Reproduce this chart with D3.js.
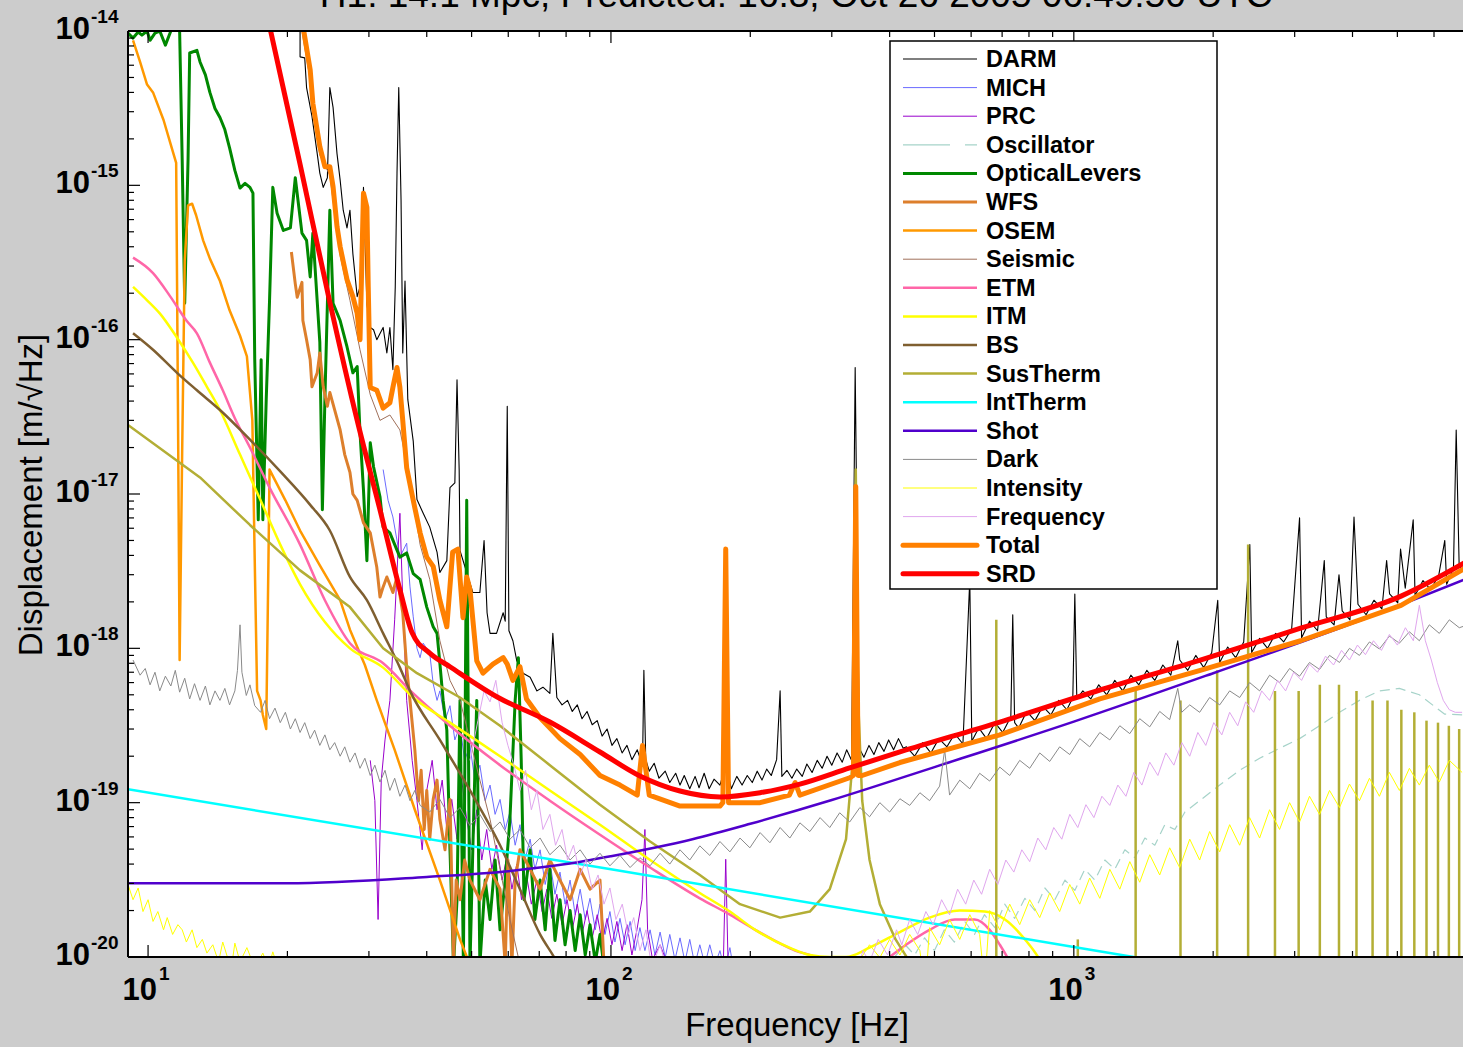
<!DOCTYPE html>
<html><head><meta charset="utf-8">
<script src="https://cdn.jsdelivr.net/npm/d3@7"></script>
<style>
html,body{margin:0;padding:0;background:#cccccc;overflow:hidden;}
svg{display:block;}
</style></head><body>
<svg id="chart" width="1463" height="1047"></svg>
<script>
// ---------------- text ----------------
const titleText = "H1: 14.1 Mpc, Predicted: 16.3, Oct 26 2005 06:49:50 UTC";
const xLabelText = "Frequency [Hz]";
const yLabelText = "Displacement [m/\u221AHz]";
const xTickExponents = [1, 2, 3];
const yTickExponents = [-14, -15, -16, -17, -18, -19, -20];
const legendNames = ["DARM","MICH","PRC","Oscillator","OpticalLevers","WFS","OSEM","Seismic","ETM","ITM","BS","SusTherm","IntTherm","Shot","Dark","Intensity","Frequency","Total","SRD"];

// ---------------- data: [frequency Hz, displacement m/rtHz] ----------------
const darm = [[21.3,1.4e-14],[21.3,6.8e-15],[21.8,6.7e-15],[22.0,4.3e-15],[22.6,2.8e-15],[23.2,1.6e-15],[23.5,1.2e-15],[23.9,9.7e-16],[24.4,1.12e-15],[24.7,4.3e-15],[25.1,3.2e-15],[25.6,1.6e-15],[26.0,1.08e-15],[26.4,6.9e-16],[26.9,5.3e-16],[27.3,6.9e-16],[27.7,3.6e-16],[28.3,1.9e-16],[28.7,2.2e-16],[29.2,9.7e-16],[29.7,1.7e-16],[30.2,1.2e-16],[30.7,1.16e-16],[31.2,1.0e-16],[32.2,1.2e-16],[32.8,8.2e-17],[33.3,1.2e-16],[33.8,6.4e-17],[34.2,2.2e-16],[34.5,1.2e-15],[34.8,4.3e-15],[35.2,8.0e-16],[35.5,8.2e-17],[35.9,2.4e-16],[36.4,4.1e-17],[37.4,2.2e-17],[38.1,9.2e-18],[39.3,7.5e-18],[40.6,6.1e-18],[42.1,4.2e-18],[42.7,3.1e-18],[44.2,3.7e-18],[44.9,1.1e-17],[46.0,1.18e-17],[46.5,5.5e-17],[47.0,1.44e-17],[47.2,4.3e-18],[48.8,3.1e-18],[50.3,2.3e-18],[52.1,2.3e-18],[53.2,5.0e-18],[54.0,1.7e-18],[54.8,1.25e-18],[56.6,1.25e-18],[58.5,1.7e-18],[59.1,1.5e-18],[59.7,3.7e-17],[60.2,1.3e-18],[61.4,1.12e-18],[62.6,8.3e-19],[64.6,6.9e-19],[66.9,6.5e-19],[69.2,5.3e-19],[71.3,5.6e-19],[73.8,5.1e-19],[74.9,1.25e-18],[76.4,4.8e-19],[78.4,4.3e-19],[80.6,4.6e-19],[82.5,3.9e-19],[84.6,4.3e-19],[86.6,3.5e-19],[88.8,3.9e-19],[91.1,3.2e-19],[93.4,3.4e-19],[95.7,2.7e-19],[98.1,3.0e-19],[100.5,2.35e-19],[103,2.6e-19],[105.7,2.1e-19],[108.3,2.35e-19],[111,1.9e-19],[114,2.2e-19],[117,1.75e-19],[117.8,7.2e-19],[118.9,1.9e-19],[121,1.6e-19],[124,1.8e-19],[127,1.44e-19],[131,1.6e-19],[134,1.35e-19],[138,1.55e-19],[141,1.3e-19],[144,1.5e-19],[148,1.23e-19],[152,1.48e-19],[155,1.25e-19],[159,1.55e-19],[163,1.23e-19],[167,1.42e-19],[172,1.3e-19],[175,1.55e-19],[177,9.7e-19],[179,1.55e-19],[182,1.23e-19],[187,1.48e-19],[192,1.3e-19],[197,1.5e-19],[202,1.35e-19],[207,1.6e-19],[212,1.4e-19],[217,1.65e-19],[222,1.5e-19],[228,1.9e-19],[232,5.3e-19],[234,1.48e-19],[240,1.62e-19],[246,1.44e-19],[252,1.65e-19],[259,1.48e-19],[265,1.78e-19],[272,1.57e-19],[279,1.88e-19],[286,1.67e-19],[293,2.0e-19],[300,1.75e-19],[308,2.1e-19],[316,1.83e-19],[323,2.2e-19],[331,1.88e-19],[337,6.6e-17],[344,2.25e-19],[352,1.97e-19],[361,2.35e-19],[370,2.05e-19],[379,2.45e-19],[389,2.15e-19],[398,2.55e-19],[408,2.2e-19],[418,2.6e-19],[428,2.25e-19],[435,2.3e-19],[453,2.0e-19],[472,2.45e-19],[491,2.1e-19],[511,2.6e-19],[532,2.3e-19],[553,2.8e-19],[576,2.4e-19],[596,2.8e-18],[602,2.5e-19],[623,3.05e-19],[648,2.6e-19],[675,3.3e-19],[702,2.85e-19],[731,3.6e-19],[738,1.65e-18],[745,3.3e-19],[760,3.05e-19],[791,3.9e-19],[824,3.4e-19],[857,4.2e-19],[892,3.7e-19],[928,4.6e-19],[966,4.0e-19],[995,4.8e-19],[1005,2.25e-18],[1015,4.7e-19],[1046,5.3e-19],[1088,4.7e-19],[1132,5.8e-19],[1178,5.0e-19],[1226,6.2e-19],[1276,5.3e-19],[1328,6.7e-19],[1382,5.8e-19],[1438,7.2e-19],[1496,6.2e-19],[1557,7.8e-19],[1620,6.7e-19],[1677,1.12e-18],[1694,8.4e-19],[1763,7.2e-19],[1834,9.0e-19],[1909,7.5e-19],[1986,9.4e-19],[2046,2.05e-18],[2066,8.1e-19],[2150,1.02e-18],[2237,8.7e-19],[2328,1.1e-18],[2400,4.7e-18],[2422,9.4e-19],[2520,1.16e-18],[2622,1.0e-18],[2729,1.25e-18],[2840,1.1e-18],[2955,1.33e-18],[3074,7.0e-18],[3105,1.17e-18],[3230,1.5e-18],[3362,1.3e-18],[3476,3.7e-18],[3510,1.6e-18],[3650,1.42e-18],[3740,3.0e-18],[3800,1.75e-18],[3950,1.53e-18],[4030,7.1e-18],[4110,1.93e-18],[4280,1.65e-18],[4450,2.05e-18],[4630,1.8e-18],[4740,3.7e-18],[4810,2.25e-18],[5010,1.97e-18],[5080,4.4e-18],[5200,2.45e-18],[5410,6.8e-18],[5460,2.2e-18],[5680,2.75e-18],[5900,2.4e-18],[6140,2.95e-18],[6330,5.0e-18],[6390,2.6e-18],[6610,3.3e-18],[6700,2.6e-17],[6800,3.4e-18],[7000,3.1e-18]];

const mich = [[32.2,1.44e-17],[33.0,9.1e-18],[33.8,7.1e-18],[35.0,3.9e-18],[36.2,4.8e-18],[36.8,2.5e-18],[37.4,1.6e-18],[38.1,1.0e-18],[38.7,8.7e-19],[39.3,1.08e-18],[40.6,9.3e-19],[41.3,5.9e-19],[42.1,4.6e-19],[42.7,5.3e-19],[43.8,3.4e-19],[44.9,4.25e-19],[46.0,2.55e-19],[47.2,3.15e-19],[48.3,1.88e-19],[49.6,2.35e-19],[50.8,1.4e-19],[52.1,1.75e-19],[53.5,1.03e-19],[54.8,1.3e-19],[56.2,8.4e-20],[57.6,1.05e-19],[59.1,6.7e-20],[60.5,8.7e-20],[62.1,5.3e-20],[63.6,7.2e-20],[65.2,4.25e-20],[66.9,5.8e-20],[68.5,3.7e-20],[70.3,4.95e-20],[72.1,2.95e-20],[73.8,4.15e-20],[75.7,2.55e-20],[77.6,3.55e-20],[79.6,2.2e-20],[81.6,3.15e-20],[83.7,1.88e-20],[85.8,2.75e-20],[88.0,1.75e-20],[90.1,2.4e-20],[92.5,1.5e-20],[94.7,2.2e-20],[97.1,1.4e-20],[99.5,1.97e-20],[102,1.25e-20],[104.6,1.78e-20],[107.3,1.2e-20],[110,1.7e-20],[112.8,1.1e-20],[115.5,1.55e-20],[118.4,1.1e-20],[121.5,1.5e-20],[124.5,1.03e-20],[127.7,1.45e-20],[131,9.9e-21],[134,1.4e-20],[137.5,9.6e-21],[141,1.33e-20],[144.5,9.3e-21],[148,1.3e-20],[151.8,8.9e-21],[155.6,1.2e-20],[159.6,8.9e-21],[163.5,1.2e-20],[167.7,8.9e-21],[172,1.1e-20],[176,8.2e-21],[180.7,1.15e-20],[185,7.6e-21]];

const prc = [[30.2,1.88e-19],[30.9,1.03e-19],[31.4,1.75e-20],[31.9,1.4e-19],[32.5,2.55e-19],[33.3,4.6e-19],[34.1,1.53e-18],[35.0,7.5e-18],[35.5,2.05e-18],[36.2,4.6e-19],[37.2,1.88e-19],[38.1,1.03e-19],[39.1,4.95e-20],[40.0,1.2e-19],[41.1,1.88e-19],[42.1,9.0e-20],[43.2,1.4e-19],[44.2,6.7e-20],[45.3,1.05e-19],[46.5,5.8e-20],[47.6,1.4e-19],[48.8,7.8e-20],[50.0,4.95e-20],[51.3,9.0e-20],[52.6,4.25e-20],[53.9,6.7e-20],[55.3,3.7e-20],[56.6,5.3e-20],[58.2,3.15e-20],[59.7,4.6e-20],[61.1,2.75e-20],[62.6,4.0e-20],[64.1,2.35e-20],[65.7,3.4e-20],[67.3,2.2e-20],[69.2,3.15e-20],[71.0,1.97e-20],[72.7,2.75e-20],[74.5,1.78e-20],[76.4,2.55e-20],[78.4,1.62e-20],[80.4,2.35e-20],[82.5,1.5e-20],[84.6,2.2e-20],[86.6,1.4e-20],[88.8,2.0e-20],[91.1,1.33e-20],[93.4,1.88e-20],[95.7,1.25e-20],[98.1,1.78e-20],[100.5,1.2e-20],[103,1.7e-20],[105.7,1.1e-20],[108.3,1.62e-20],[111,1.03e-20],[113.8,1.5e-20],[116.7,2.35e-20],[118.4,6.7e-20],[120,1.5e-20],[123,9.6e-21],[127.7,1.2e-20],[134,8.2e-21],[175,9.6e-21],[177,4.3e-20],[179,9.6e-21]];

const oscillator = [[410,1.0e-20],[432,1.2e-20],[453,1.03e-20],[476,1.33e-20],[500,1.1e-20],[525,1.5e-20],[552,1.25e-20],[581,1.7e-20],[610,1.4e-20],[641,1.88e-20],[675,1.55e-20],[709,2.2e-20],[745,1.78e-20],[784,2.4e-20],[824,2.0e-20],[866,2.8e-20],[910,2.35e-20],[957,3.15e-20],[1005,2.7e-20],[1056,3.7e-20],[1110,3.15e-20],[1167,4.25e-20],[1226,3.7e-20],[1289,4.95e-20],[1355,4.4e-20],[1424,5.9e-20],[1496,5.3e-20],[1573,7.2e-20],[1653,6.7e-20],[1738,8.7e-20],[1870,1.03e-19],[2066,1.3e-19],[2282,1.62e-19],[2520,1.94e-19],[2783,2.25e-19],[3074,2.6e-19],[3395,3.15e-19],[3750,3.85e-19],[4141,4.6e-19],[4573,5.3e-19],[5051,5.5e-19],[5578,5.0e-19],[6015,4.2e-19],[6320,3.75e-19],[7000,3.7e-19]];

const opticalLevers = [[9.05,9.7e-15],[9.28,9.0e-15],[9.52,9.85e-15],[9.7,9.4e-15],[9.95,1.0e-14],[10.1,8.7e-15],[10.35,9.7e-15],[10.6,1.0e-14],[10.9,8.1e-15],[11.2,1.0e-14],[11.5,1.18e-14],[11.7,1.0e-14],[11.85,1.46e-15],[12.0,1.72e-16],[12.2,1.46e-15],[12.3,7.2e-15],[12.75,7.5e-15],[12.95,6.3e-15],[13.3,5.2e-15],[13.6,4.0e-15],[13.95,3.15e-15],[14.3,2.75e-15],[14.65,2.3e-15],[15.0,1.75e-15],[15.4,1.25e-15],[15.8,9.6e-16],[16.2,1.03e-15],[16.6,9.7e-16],[16.85,8.9e-16],[17.0,7.4e-17],[17.3,6.8e-18],[17.55,7.4e-17],[17.7,6.8e-18],[18.0,4.1e-17],[18.3,1.8e-16],[18.6,9.7e-16],[19.0,6.6e-16],[19.6,5.1e-16],[20.3,5.3e-16],[20.8,1.12e-15],[21.5,4.9e-16],[22.0,4.4e-16],[22.4,2.55e-16],[22.7,4.9e-16],[23.5,9.6e-17],[23.8,7.9e-18],[24.1,4.1e-17],[24.7,6.9e-16],[25.1,1.72e-16],[26.0,1.33e-16],[26.9,9.0e-17],[27.7,6.1e-17],[28.3,6.7e-17],[28.7,2.5e-17],[29.2,1.06e-17],[29.7,3.7e-18],[30.2,2.15e-17],[30.7,1.5e-17],[31.7,9.6e-18],[32.2,6.1e-18],[33.3,5.6e-18],[35.0,3.9e-18],[36.2,4.15e-18],[37.4,3.05e-18],[38.7,2.8e-18],[40.0,1.85e-18],[41.3,1.38e-18],[42.1,1.25e-18],[42.7,8.0e-19],[43.4,4.6e-19],[44.2,2.95e-19],[44.9,4.95e-20],[45.7,8.9e-21],[46.5,2.35e-20],[47.2,4.6e-19],[48.0,8.9e-21],[48.8,9.1e-18],[49.6,8.9e-21],[50.3,4.95e-20],[51.3,4.6e-19],[52.1,8.9e-21],[53.5,3.15e-20],[54.8,1.75e-20],[56.2,4.25e-20],[57.6,1.5e-20],[59.1,3.15e-20],[60.5,7.8e-20],[62.1,4.6e-19],[63.1,8.7e-19],[64.0,1.88e-19],[64.9,2.35e-20],[66.9,4.95e-20],[68.5,1.75e-20],[70.3,3.15e-20],[72.1,1.5e-20],[73.8,3.7e-20],[75.7,1.28e-20],[77.6,2.35e-20],[79.6,1.2e-20],[81.6,2.0e-20],[83.7,1.1e-20],[85.8,1.88e-20],[88.0,1.03e-20],[90.1,1.62e-20],[92.5,9.3e-21],[94.7,1.4e-20],[97.1,7.6e-21]];

const wfs = [[20.4,3.7e-16],[20.8,2.3e-16],[21.0,1.88e-16],[21.5,2.35e-16],[21.6,1.33e-16],[22.0,1.0e-16],[22.4,7.4e-17],[22.6,4.95e-17],[23.2,6.1e-17],[23.5,8.2e-17],[23.9,4.95e-17],[24.4,3.7e-17],[24.7,4.55e-17],[26.0,2.6e-17],[26.6,1.8e-17],[27.3,1.38e-17],[27.7,1.0e-17],[28.3,9.1e-18],[29.2,6.5e-18],[30.2,5.6e-18],[31.2,3.35e-18],[31.7,2.15e-18],[32.2,2.5e-18],[32.8,2.9e-18],[33.8,2.3e-18],[34.5,2.9e-18],[35.5,1.7e-18],[36.2,7.5e-19],[36.8,4.6e-19],[37.7,2.2e-19],[38.4,1.03e-19],[38.9,1.62e-19],[39.5,6.7e-20],[40.0,1.2e-19],[40.6,5.8e-20],[41.3,1.05e-19],[42.1,1.4e-19],[42.7,7.8e-20],[43.8,4.95e-20],[44.9,1.05e-19],[45.7,8.9e-21],[46.3,3.15e-20],[47.2,2.35e-20],[48.3,4.25e-20],[49.6,3.15e-20],[52.1,2.35e-20],[54.8,3.7e-20],[57.6,2.75e-20],[59.1,8.9e-21],[59.9,4.25e-20],[61.1,8.9e-21],[62.1,3.15e-20],[63.6,4.95e-20],[66.9,3.7e-20],[70.3,2.75e-20],[73.8,4.25e-20],[77.6,3.15e-20],[81.6,2.35e-20],[85.8,3.7e-20],[90.1,2.75e-20],[94.7,3.15e-20],[96.6,8.9e-21]];

const osem = [[9.28,8.7e-15],[9.61,6.3e-15],[9.95,4.5e-15],[10.25,4.0e-15],[10.8,2.65e-15],[11.2,1.83e-15],[11.5,1.4e-15],[11.6,4.1e-17],[11.7,8.4e-19],[11.85,1.94e-17],[12.0,3.25e-16],[12.2,7.4e-16],[12.45,7.6e-16],[12.7,6.4e-16],[13.15,4.4e-16],[13.6,3.35e-16],[14.3,2.4e-16],[15.0,1.55e-16],[15.8,1.06e-16],[16.35,7.8e-17],[16.8,3.0e-17],[17.0,3.7e-18],[17.2,5.3e-19],[17.5,4.6e-19],[17.7,3.7e-19],[18.0,3.0e-19],[18.2,3.7e-18],[18.3,1.44e-17],[19.8,9.1e-18],[21.3,5.8e-18],[23.5,3.45e-18],[26.0,2.05e-18],[27.3,1.32e-18],[29.4,7.8e-19],[31.2,4.6e-19],[34.1,2.2e-19],[37.7,9.0e-20],[42.7,3.15e-20],[47.2,1.3e-20],[49.1,9.6e-21],[50.8,6.1e-21]];

const seismic = [[21.3,1.18e-14],[22.4,4.8e-15],[23.5,1.57e-15],[24.7,1.16e-15],[26.0,3.5e-16],[27.3,1.8e-16],[28.7,8.6e-17],[30.2,4.4e-17],[31.7,3.0e-17],[33.3,3.25e-17],[35.0,2.6e-17],[36.8,1.23e-17],[38.7,4.7e-18],[40.6,2.8e-18],[42.7,1.12e-18],[44.9,6.2e-19],[47.2,4.6e-19],[49.6,2.55e-19],[52.1,1.4e-19],[54.8,7.8e-20],[57.6,3.7e-20],[60.5,1.75e-20],[63.6,8.9e-21]];

const etm = [[9.28,3.4e-16],[10.25,2.7e-16],[11.2,1.88e-16],[12.1,1.33e-16],[12.75,1.1e-16],[13.6,7.1e-17],[14.5,4.7e-17],[15.4,3.1e-17],[16.6,2.0e-17],[18.3,1.1e-17],[21.3,4.7e-18],[24.1,2.05e-18],[27.3,1.08e-18],[32.2,8.0e-19],[37.4,5.1e-19],[44.9,3.15e-19],[57.6,1.75e-19],[73.8,1.03e-19],[94.7,6.2e-20],[121.5,3.8e-20],[155.6,2.4e-20],[180.7,1.88e-20],[205,1.5e-20],[250,1.1e-20],[276,1.0e-20],[312,7.6e-21],[362,8.2e-21],[400,1.0e-20],[434,1.2e-20],[488,1.5e-20],[553,1.75e-20],[611,1.75e-20],[658,1.5e-20],[692,1.2e-20],[727,9.3e-21],[764,6.6e-21]];

const itm = [[9.28,2.2e-16],[9.95,1.8e-16],[10.6,1.48e-16],[11.55,1.03e-16],[12.5,7.1e-17],[13.4,4.95e-17],[14.3,3.5e-17],[15.8,1.8e-17],[17.5,9.1e-18],[19.3,4.7e-18],[21.3,2.6e-18],[24.1,1.48e-18],[27.3,1.0e-18],[32.2,7.5e-19],[37.4,4.8e-19],[44.9,3.3e-19],[57.6,2.0e-19],[73.8,1.2e-19],[94.7,7.2e-20],[121.5,4.25e-20],[155.6,2.6e-20],[180.7,1.97e-20],[205,1.5e-20],[243,1.15e-20],[269,1.03e-20],[297,1.0e-20],[322,1.0e-20],[362,1.15e-20],[421,1.45e-20],[488,1.8e-20],[567,2.0e-20],[642,1.97e-20],[710,1.75e-20],[784,1.3e-20],[844,9.6e-21],[887,7.1e-21]];

const bs = [[9.28,1.1e-16],[10.25,8.6e-17],[11.55,6.1e-17],[12.75,4.7e-17],[14.3,3.5e-17],[16.6,2.25e-17],[19.3,1.4e-17],[22.4,8.5e-18],[24.7,5.8e-18],[27.3,2.9e-18],[29.7,2.05e-18],[32.2,1.25e-18],[35.0,7.5e-19],[36.8,5.3e-19],[42.7,2.55e-19],[49.6,1.2e-19],[57.6,5.3e-20],[63.6,2.75e-20],[70.3,1.4e-20],[75.9,9.6e-21],[81.6,6.1e-21]];

const susTherm = [[9.05,2.8e-17],[12.95,1.28e-17],[16.6,6.3e-18],[21.3,3.2e-18],[27.3,1.85e-18],[32.2,1.0e-18],[38.1,6.9e-19],[47.2,4.8e-19],[57.6,3.15e-19],[73.8,1.75e-19],[94.7,9.7e-20],[121.5,5.6e-20],[155.6,3.4e-20],[190,2.2e-20],[232,1.8e-20],[269,1.97e-20],[297,2.75e-20],[322,5.8e-20],[333,1.88e-19],[338,1.44e-17],[342,4.6e-19],[349,1.03e-19],[362,4.25e-20],[381,2.2e-20],[412,1.3e-20],[442,9.3e-21]];
const violinFreqs = [680,1020,1360,1700,2040,2380,2720,3060,3400,3740,4080,4420,4760,5100,5440,5780,6120,6460,6800];
const violinPeaks = [1.53e-18,1.3e-20,5.3e-19,4.6e-19,7.2e-19,4.7e-18,5.3e-19,5.3e-19,5.8e-19,5.8e-19,5.3e-19,4.6e-19,4.6e-19,4.0e-19,3.85e-19,3.4e-19,3.3e-19,3.15e-19,3.0e-19];

const intTherm = [[9.05,1.22e-19],[100,3.7e-20],[1000,1.16e-20],[7000,4.4e-21]];

const shot = [[9.05,3.0e-20],[20,3.0e-20],[40,3.3e-20],[60,3.6e-20],[80,4.0e-20],[100,4.5e-20],[150,5.8e-20],[200,7.3e-20],[300,1.04e-19],[500,1.7e-19],[1000,3.35e-19],[2000,6.9e-19],[4000,1.45e-18],[7000,2.8e-18]];

const dark = [[9.28,8.4e-19],[9.61,6.7e-19],[9.86,7.4e-19],[10.1,5.8e-19],[10.35,7.0e-19],[10.6,5.3e-19],[10.9,6.6e-19],[11.2,5.7e-19],[11.45,7.2e-19],[11.7,5.2e-19],[12.0,6.4e-19],[12.3,4.7e-19],[12.6,5.9e-19],[12.95,4.6e-19],[13.3,5.7e-19],[13.6,4.3e-19],[13.95,5.3e-19],[14.3,4.6e-19],[14.65,5.5e-19],[15.0,4.3e-19],[15.4,5.3e-19],[15.6,7.2e-19],[15.8,1.42e-18],[15.95,7.0e-19],[16.3,4.95e-19],[16.6,5.8e-19],[17.0,4.25e-19],[17.5,3.85e-19],[17.9,4.6e-19],[18.3,3.5e-19],[18.8,4.1e-19],[19.3,3.3e-19],[19.8,3.85e-19],[20.3,3.0e-19],[20.8,3.5e-19],[21.3,2.85e-19],[21.8,3.3e-19],[22.4,2.6e-19],[22.9,2.95e-19],[23.5,2.35e-19],[24.1,2.75e-19],[24.7,2.2e-19],[25.3,2.45e-19],[26.0,2.0e-19],[26.6,2.3e-19],[27.3,1.83e-19],[28.0,2.1e-19],[28.7,1.67e-19],[29.4,1.94e-19],[30.2,1.5e-19],[30.9,1.75e-19],[31.7,1.36e-19],[32.5,1.62e-19],[33.3,1.2e-19],[34.1,1.44e-19],[35.0,1.1e-19],[35.9,1.3e-19],[36.8,1.03e-19],[37.7,1.2e-19],[38.7,9.6e-20],[40.6,8.7e-20],[42.7,1.05e-19],[44.9,8.0e-20],[47.2,9.3e-20],[49.6,7.1e-20],[52.1,8.4e-20],[54.8,6.5e-20],[57.6,7.5e-20],[60.5,5.8e-20],[63.6,6.7e-20],[66.9,5.1e-20],[70.3,5.9e-20],[73.8,4.6e-20],[77.6,5.3e-20],[81.6,4.25e-20],[85.8,4.95e-20],[90.1,4.0e-20],[94.7,4.7e-20],[99.5,3.9e-20],[104.6,4.55e-20],[110,3.8e-20],[115.5,4.4e-20],[121.5,3.9e-20],[127.7,4.7e-20],[134,4.0e-20],[141,4.95e-20],[148,4.25e-20],[155.6,5.25e-20],[163.5,4.55e-20],[172,5.6e-20],[180.7,4.8e-20],[190,5.9e-20],[199.6,5.1e-20],[210,6.4e-20],[220.5,5.5e-20],[232,6.9e-20],[243.5,5.9e-20],[256,7.4e-20],[269,6.5e-20],[283,8.0e-20],[297,6.9e-20],[312,8.6e-20],[328,7.5e-20],[345,9.3e-20],[362,8.1e-20],[381,1.0e-19],[400,8.7e-20],[421,1.06e-19],[442,9.6e-20],[465,1.16e-19],[488,1.03e-19],[513,1.28e-19],[526,2.2e-19],[539,1.12e-19],[567,1.4e-19],[596,1.23e-19],[626,1.55e-19],[658,1.38e-19],[692,1.7e-19],[727,1.5e-19],[764,1.88e-19],[803,1.67e-19],[844,2.1e-19],[887,1.85e-19],[932,2.3e-19],[980,2.05e-19],[1030,2.6e-19],[1082,2.3e-19],[1138,2.85e-19],[1196,2.55e-19],[1257,3.15e-19],[1321,2.8e-19],[1388,3.5e-19],[1459,3.1e-19],[1533,3.9e-19],[1611,3.45e-19],[1677,5.5e-19],[1710,3.85e-19],[1780,4.3e-19],[1870,3.85e-19],[1965,4.8e-19],[2066,4.3e-19],[2171,5.3e-19],[2282,4.8e-19],[2398,6.0e-19],[2520,5.3e-19],[2648,6.7e-19],[2783,6.0e-19],[2925,7.4e-19],[3074,6.6e-19],[3230,8.1e-19],[3395,7.3e-19],[3568,9.0e-19],[3750,8.1e-19],[3940,1.0e-18],[4141,9.0e-19],[4352,1.1e-18],[4573,9.9e-19],[4806,1.2e-18],[5051,1.08e-18],[5308,1.28e-18],[5578,1.12e-18],[5862,1.42e-18],[6161,1.25e-18],[6474,1.53e-18],[6804,1.36e-18],[7000,1.4e-18]];

const intensity = [[9.05,2.95e-20],[9.28,2.35e-20],[9.52,2.8e-20],[9.75,1.97e-20],[10.0,2.35e-20],[10.25,1.7e-20],[10.5,1.97e-20],[10.8,1.5e-20],[11.0,1.8e-20],[11.3,1.4e-20],[11.6,1.62e-20],[11.85,1.5e-20],[12.1,1.25e-20],[12.45,1.5e-20],[12.75,1.15e-20],[13.1,1.3e-20],[13.4,1.06e-20],[13.8,1.2e-20],[14.2,9.3e-21],[14.5,1.25e-20],[14.9,9.6e-21],[15.25,1.0e-20],[15.4,1.23e-20],[15.8,9.3e-21],[16.35,1.15e-20],[17.0,8.5e-21],[17.7,1.06e-20],[18.2,8.5e-21],[18.6,1.08e-20],[19.3,7.6e-21],
 [345,9.6e-21],[362,1.2e-20],[381,9.9e-21],[400,1.3e-20],[421,1.03e-20],[442,1.4e-20],[465,1.1e-20],[477,6.0e-21],[488,1.55e-20],[513,1.2e-20],[539,1.75e-20],[567,1.3e-20],[596,1.88e-20],[626,1.4e-20],[642,6.5e-21],[658,2.0e-20],[692,1.5e-20],[727,2.2e-20],[764,1.62e-20],[803,2.35e-20],[844,1.8e-20],[887,2.6e-20],[932,1.97e-20],[980,2.95e-20],[1030,2.2e-20],[1082,3.25e-20],[1138,2.4e-20],[1196,3.7e-20],[1257,2.75e-20],[1321,4.15e-20],[1388,3.05e-20],[1459,4.6e-20],[1533,3.4e-20],[1611,5.1e-20],[1693,3.8e-20],[1780,5.8e-20],[1870,4.25e-20],[1965,6.5e-20],[2066,4.8e-20],[2171,7.2e-20],[2282,5.3e-20],[2398,8.0e-20],[2520,5.9e-20],[2648,9.0e-20],[2783,6.7e-20],[2925,1.0e-19],[3074,7.5e-20],[3230,1.1e-19],[3395,8.4e-20],[3568,1.2e-19],[3750,9.3e-20],[3940,1.32e-19],[4141,1.03e-19],[4352,1.44e-19],[4573,1.1e-19],[4806,1.57e-19],[5051,1.2e-19],[5308,1.67e-19],[5578,1.3e-19],[5862,1.75e-19],[6161,1.36e-19],[6474,1.88e-19],[6900,1.57e-19]];
const intensityGapAfter = 19.3; // the low-frequency and high-frequency parts are drawn as two pieces

const frequencyNoise = [[49.6,1.88e-19],[51.6,3.4e-19],[53.2,5.3e-19],[54.8,4.5e-19],[56.4,6.2e-19],[58.2,3.3e-19],[59.9,2.35e-19],[61.7,1.75e-19],[63.6,1.2e-19],[65.4,1.62e-19],[67.3,9.0e-20],[69.2,1.2e-19],[71.3,6.7e-20],[73.8,8.4e-20],[75.9,5.3e-20],[78.4,6.7e-20],[80.6,4.25e-20],[83.0,5.3e-20],[85.8,3.4e-20],[88.3,4.25e-20],[91.1,2.75e-20],[93.8,3.4e-20],[96.6,2.2e-20],[99.5,2.8e-20],[102.5,1.75e-20],[105.8,2.2e-20],[109,1.4e-20],[112,1.8e-20],[115.5,1.1e-20],[119,1.5e-20],[122.5,8.5e-21],[127.7,1.2e-20],[133,7.6e-21],[155.6,6.0e-21],[232,5.0e-21],[336,6.6e-21],[350,1.1e-20],[362,9.3e-21],[378,1.3e-20],[396,1.03e-20],[414,1.5e-20],[425,1.2e-20],[442,1.75e-20],[460,1.4e-20],[479,1.97e-20],[497,1.62e-20],[518,2.35e-20],[539,1.88e-20],[561,2.75e-20],[584,2.2e-20],[608,3.15e-20],[632,2.55e-20],[658,3.7e-20],[685,2.95e-20],[713,4.25e-20],[742,3.55e-20],[772,4.95e-20],[803,4.15e-20],[836,5.9e-20],[870,4.95e-20],[905,6.9e-20],[942,5.8e-20],[980,8.4e-20],[1020,6.9e-20],[1062,9.7e-20],[1105,8.0e-20],[1150,1.1e-19],[1196,9.6e-20],[1245,1.3e-19],[1296,1.1e-19],[1348,1.57e-19],[1403,1.3e-19],[1459,1.83e-19],[1519,1.5e-19],[1580,2.1e-19],[1645,1.75e-19],[1711,2.45e-19],[1780,2.0e-19],[1853,2.85e-19],[1928,2.35e-19],[2006,3.3e-19],[2088,2.75e-19],[2171,3.85e-19],[2260,3.15e-19],[2351,4.5e-19],[2447,3.85e-19],[2546,5.3e-19],[2648,4.6e-19],[2757,6.2e-19],[2868,5.3e-19],[2985,7.0e-19],[3105,6.2e-19],[3230,7.9e-19],[3362,7.0e-19],[3498,8.9e-19],[3640,7.8e-19],[3787,9.7e-19],[3940,8.4e-19],[4100,1.05e-18],[4266,9.1e-19],[4440,1.12e-18],[4619,9.7e-19],[4806,1.23e-18],[5001,1.05e-18],[5204,1.36e-18],[5414,1.12e-18],[5578,1.9e-18],[5747,1.12e-18],[5920,8.4e-19],[6100,6.0e-19],[6284,4.6e-19],[6474,4.0e-19],[6670,3.85e-19],[6900,3.85e-19]];

const total = [[21.3,1.4e-14],[22.4,5.6e-15],[22.7,3.4e-15],[23.5,1.78e-15],[24.1,1.32e-15],[24.7,1.32e-15],[25.1,9.8e-16],[25.6,5.4e-16],[26.0,4.0e-16],[26.9,2.45e-16],[27.7,1.9e-16],[28.3,1.48e-16],[28.7,1e-16],[29.2,8.9e-16],[29.7,7.2e-16],[29.9,2.2e-16],[30.2,4.9e-17],[31.2,4.7e-17],[32.2,3.6e-17],[33.3,3.9e-17],[33.8,4.9e-17],[34.5,6.6e-17],[35.0,4.9e-17],[35.5,3.0e-17],[36.2,1.48e-17],[37.4,9.1e-18],[38.7,5.6e-18],[40.0,3.9e-18],[41.3,3.4e-18],[42.7,2.05e-18],[44.2,1.38e-18],[45.5,4.2e-18],[46.7,4.4e-18],[47.9,1.58e-18],[48.8,2.9e-18],[49.6,2.4e-18],[51.3,8.3e-19],[52.9,6.9e-19],[55.6,7.9e-19],[58.5,8.7e-19],[59.7,7.9e-19],[61.4,6.2e-19],[63.6,7.6e-19],[65.7,4.7e-19],[70.3,3.55e-19],[77.6,2.6e-19],[85.8,2.05e-19],[94.7,1.5e-19],[104.6,1.3e-19],[114,1.12e-19],[117,2.35e-19],[121,1.12e-19],[141,9.5e-20],[172,9.5e-20],[174.5,1.0e-19],[177,4.4e-18],[179.5,1.0e-19],[210,1.0e-19],[243,1.12e-19],[250,1.35e-19],[256,1.12e-19],[328,1.45e-19],[334,1.5e-19],[338,1.12e-17],[342,1.5e-19],[349,1.5e-19],[421,1.82e-19],[692,2.75e-19],[1138,4.7e-19],[1876,7.2e-19],[3090,1.12e-18],[5092,1.9e-18],[7000,3.3e-18]];

const srd = [[17.0,3e-14],[18.4,1e-14],[21.3,1.37e-15],[24.7,1.75e-16],[28.3,3.0e-17],[31.7,7.9e-18],[35.0,2.4e-18],[37.2,1.26e-18],[40.6,9.3e-19],[44.9,7.6e-19],[56.8,4.84e-19],[73.8,3.33e-19],[94.7,2.13e-19],[115.5,1.49e-19],[141,1.19e-19],[172,1.09e-19],[210,1.16e-19],[256,1.32e-19],[328,1.68e-19],[421,2.13e-19],[692,3.33e-19],[1138,5.37e-19],[1876,8.4e-19],[3090,1.35e-18],[5092,2.18e-18],[7000,3.6e-18]];

// ---------------- styles (separate from data) ----------------
const styles = {
  DARM:{c:"#000000",w:1.1},
  MICH:{c:"#6b6bff",w:1},
  PRC:{c:"#9900cc",w:1},
  Oscillator:{c:"#a6d3c9",w:1.2,dash:"10,6",legendDash:"47,15"},
  OpticalLevers:{c:"#008800",w:3},
  WFS:{c:"#dd7f2c",w:3},
  OSEM:{c:"#ff9900",w:2.5},
  Seismic:{c:"#a0705a",w:1},
  ETM:{c:"#ff66a8",w:2.5},
  ITM:{c:"#ffff00",w:2.5},
  BS:{c:"#7f5f30",w:2.5},
  SusTherm:{c:"#b3ae35",w:2.5},
  IntTherm:{c:"#00ffff",w:2.5},
  Shot:{c:"#5000cc",w:2.5},
  Dark:{c:"#8a8a8a",w:1},
  Intensity:{c:"#ffff00",w:1},
  Frequency:{c:"#e0a6ee",w:1},
  Total:{c:"#ff8000",w:5},
  SRD:{c:"#ff0000",w:5}
};

// ---------------- chart ----------------
const W = 1463, H = 1047;
const plot = {left:128, top:31, right:1465, bottom:957};
const FONT = "'Liberation Sans', Arial, Helvetica, sans-serif";

const x = d3.scaleLog().domain([9.05, 7000]).range([plot.left, plot.right]);
const y = d3.scaleLog().domain([1e-20, 1e-14]).range([plot.bottom, plot.top]);

const svg = d3.select("#chart");
svg.append("rect").attr("width", W).attr("height", H).attr("fill", "#cccccc");
svg.append("rect").attr("x", plot.left).attr("y", plot.top)
  .attr("width", plot.right - plot.left).attr("height", plot.bottom - plot.top).attr("fill", "#ffffff");

svg.append("defs").append("clipPath").attr("id", "clip")
  .append("rect").attr("x", plot.left).attr("y", plot.top)
  .attr("width", plot.right - plot.left).attr("height", plot.bottom - plot.top);

const g = svg.append("g").attr("clip-path", "url(#clip)");
const lineLin = d3.line().x(d => x(d[0])).y(d => y(d[1]));
const lineSmooth = d3.line().x(d => x(d[0])).y(d => y(d[1])).curve(d3.curveMonotoneX);

function draw(name, data, smooth) {
  const s = styles[name];
  g.append("path").datum(data)
    .attr("d", smooth ? lineSmooth : lineLin)
    .attr("fill", "none").attr("stroke", s.c).attr("stroke-width", s.w)
    .attr("stroke-linejoin", "round")
    .attr("stroke-dasharray", s.dash || null);
}

draw("DARM", darm, false);
draw("MICH", mich, false);
draw("PRC", prc, false);
draw("Oscillator", oscillator, false);
draw("OpticalLevers", opticalLevers, false);
draw("WFS", wfs, false);
draw("OSEM", osem, false);
draw("Seismic", seismic, false);
draw("ETM", etm, true);
draw("ITM", itm, true);
draw("BS", bs, true);
draw("SusTherm", susTherm, false);
violinFreqs.forEach((f, i) => {
  draw("SusTherm", [[f, y.domain()[0]], [f, violinPeaks[i]]], false);
});
draw("IntTherm", intTherm, false);
draw("Shot", shot, true);
draw("Dark", dark, false);
draw("Intensity", intensity.filter(d => d[0] <= intensityGapAfter), false);
draw("Intensity", intensity.filter(d => d[0] > intensityGapAfter), false);
draw("Frequency", frequencyNoise, false);
draw("Total", total, false);
draw("SRD", srd, true);

// ---------------- axes ----------------
const axes = svg.append("g");
const isMajor = v => Math.abs(Math.log10(v) - Math.round(Math.log10(v))) < 1e-6;
const xt = x.ticks();
const yt = y.ticks();
const majorLen = 12, minorLen = 6;
xt.forEach(v => {
  const px = x(v), L = isMajor(v) ? majorLen : minorLen;
  axes.append("line").attr("x1", px).attr("x2", px).attr("y1", plot.bottom).attr("y2", plot.bottom - L).attr("stroke", "#000").attr("stroke-width", 1.2);
  axes.append("line").attr("x1", px).attr("x2", px).attr("y1", plot.top).attr("y2", plot.top + L).attr("stroke", "#000").attr("stroke-width", 1.2);
});
yt.forEach(v => {
  const py = y(v), L = isMajor(v) ? majorLen : minorLen;
  axes.append("line").attr("x1", plot.left).attr("x2", plot.left + L).attr("y1", py).attr("y2", py).attr("stroke", "#000").attr("stroke-width", 1.2);
});
axes.append("line").attr("x1", plot.left).attr("x2", plot.right).attr("y1", plot.bottom).attr("y2", plot.bottom).attr("stroke", "#000").attr("stroke-width", 2);
axes.append("line").attr("x1", plot.left).attr("x2", plot.right).attr("y1", plot.top).attr("y2", plot.top).attr("stroke", "#000").attr("stroke-width", 2);
axes.append("line").attr("x1", plot.left).attr("x2", plot.left).attr("y1", plot.top).attr("y2", plot.bottom).attr("stroke", "#000").attr("stroke-width", 2);

// tick labels
xTickExponents.forEach(e => {
  const px = x(Math.pow(10, e));
  axes.append("text").attr("x", px + 9).attr("y", 1000).attr("text-anchor", "end")
    .attr("font-family", FONT).attr("font-weight", "bold").attr("font-size", 31).text("10");
  axes.append("text").attr("x", px + 11).attr("y", 980).attr("text-anchor", "start")
    .attr("font-family", FONT).attr("font-weight", "bold").attr("font-size", 19).text(String(e));
});
yTickExponents.forEach(e => {
  const py = y(Math.pow(10, e));
  axes.append("text").attr("x", 90).attr("y", py + 8).attr("text-anchor", "end")
    .attr("font-family", FONT).attr("font-weight", "bold").attr("font-size", 31).text("10");
  axes.append("text").attr("x", 91).attr("y", py - 8).attr("text-anchor", "start")
    .attr("font-family", FONT).attr("font-weight", "bold").attr("font-size", 19).text(String(e));
});

// axis titles and chart title
svg.append("text").attr("x", 797).attr("y", 1036).attr("text-anchor", "middle")
  .attr("font-family", FONT).attr("font-size", 33).attr("fill", "#000").text(xLabelText);
svg.append("text").attr("transform", "translate(42,495) rotate(-90)").attr("text-anchor", "middle")
  .attr("font-family", FONT).attr("font-size", 33).attr("fill", "#000").text(yLabelText);
svg.append("text").attr("x", 796).attr("y", 7).attr("text-anchor", "middle")
  .attr("font-family", FONT).attr("font-size", 37).attr("fill", "#000").text(titleText);

// ---------------- legend ----------------
const lg = svg.append("g");
const lgBox = {x:890, y:41, w:327, h:548};
lg.append("rect").attr("x", lgBox.x).attr("y", lgBox.y).attr("width", lgBox.w).attr("height", lgBox.h)
  .attr("fill", "#fff").attr("stroke", "#000").attr("stroke-width", 1.5);
const rowH = 28.6;
legendNames.forEach((n, i) => {
  const cy = 59 + i * rowH;
  const s = styles[n];
  lg.append("line").attr("x1", 903).attr("x2", 977).attr("y1", cy).attr("y2", cy)
    .attr("stroke", s.c).attr("stroke-width", Math.max(1, s.w))
    .attr("stroke-linecap", s.w >= 4 ? "round" : "butt")
    .attr("stroke-dasharray", s.legendDash || null);
  lg.append("text").attr("x", 986).attr("y", cy + 8).attr("font-family", FONT)
    .attr("font-weight", "bold").attr("font-size", 23.5).attr("fill", "#000").text(n);
});
</script>
</body></html>
